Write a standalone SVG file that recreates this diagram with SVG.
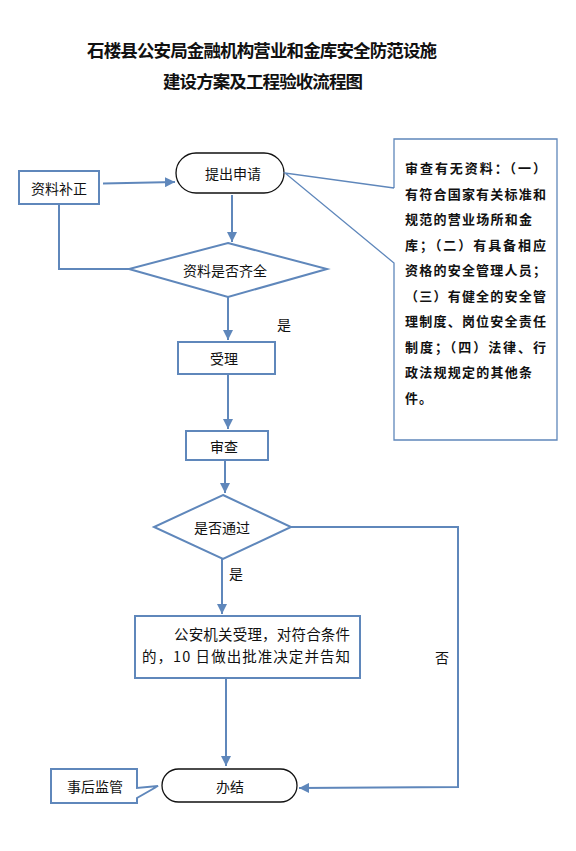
<svg xmlns="http://www.w3.org/2000/svg" width="576" height="851" viewBox="0 0 576 851">
<defs>
<style>
.t{font-family:"Noto Sans CJK SC","Liberation Serif",sans-serif;fill:#111;}
.lbl{font-size:14px;text-anchor:middle;dominant-baseline:central;}
.ttl{font-size:17.5px;font-weight:bold;text-anchor:middle;}
.call{font-size:13px;font-weight:bold;}
.bx{fill:#fff;stroke:#5f87bb;stroke-width:2;}
.st{fill:#fff;stroke:#111;stroke-width:1.3;}
.ln{fill:none;stroke:#5f87bb;stroke-width:2;}
.cl{fill:none;stroke:#5f87bb;stroke-width:1.3;}
</style>
<marker id="ah" viewBox="0 0 10 10" refX="10" refY="5" markerWidth="5" markerHeight="5" orient="auto" markerUnits="strokeWidth">
<path d="M0,0 L10,5 L0,10 z" fill="#5f87bb"/>
</marker>
</defs>
<rect width="576" height="851" fill="#fff"/>
<g id="title">
<text class="t ttl" x="262" y="57" textLength="350">石楼县公安局金融机构营业和金库安全防范设施</text>
<text class="t ttl" x="263" y="88" textLength="200">建设方案及工程验收流程图</text>
</g>
<g id="connectors">
<line class="ln" x1="103" y1="183.5" x2="175" y2="182" marker-end="url(#ah)"/>
<line class="ln" x1="232" y1="195" x2="232" y2="242" marker-end="url(#ah)"/>
<polyline class="ln" points="59,204 59,269 129,269"/>
<line class="ln" x1="228" y1="297" x2="228" y2="340" marker-end="url(#ah)"/>
<line class="ln" x1="228" y1="374" x2="228" y2="429" marker-end="url(#ah)"/>
<line class="ln" x1="225" y1="460" x2="225" y2="493" marker-end="url(#ah)"/>
<line class="ln" x1="222" y1="559" x2="222" y2="614" marker-end="url(#ah)"/>
<line class="ln" x1="226" y1="678" x2="226" y2="766" marker-end="url(#ah)"/>
<polyline class="ln" points="291,527 458,527 458,787 299,788" marker-end="url(#ah)"/>
</g>
<g id="n-apply">
<rect class="st" x="176" y="153" width="108" height="40" rx="20"/>
<text class="t lbl" x="233" y="173">提出申请</text>
</g>
<g id="n-fix">
<rect class="bx" x="19" y="171" width="80" height="33"/>
<text class="t lbl" x="59" y="187.5">资料补正</text>
</g>
<g id="n-complete">
<polygon class="bx" points="228,243 327,269 228,297 129,269"/>
<text class="t lbl" x="225" y="270">资料是否齐全</text>
</g>
<g id="n-note">
<path d="M394,188 L394,139 L557,139 L557,440 L394,440 L394,263 L285,173 Z" fill="#fff" stroke="none"/>
<polyline class="cl" points="394,188 394,139 557,139 557,440 394,440 394,263 285,173 394,188"/>
<text class="t call" x="405" y="173" textLength="141">审查有无资料：（一）</text>
<text class="t call" x="405" y="198.5" textLength="141">有符合国家有关标准和</text>
<text class="t call" x="405" y="224" textLength="127">规范的营业场所和金</text>
<text class="t call" x="405" y="249.5" textLength="141">库；（二）有具备相应</text>
<text class="t call" x="405" y="275" textLength="141">资格的安全管理人员；</text>
<text class="t call" x="405" y="300.5" textLength="141">（三）有健全的安全管</text>
<text class="t call" x="405" y="326" textLength="141">理制度、岗位安全责任</text>
<text class="t call" x="405" y="351.5" textLength="141">制度；（四）法律、行</text>
<text class="t call" x="405" y="377" textLength="127">政法规规定的其他条</text>
<text class="t call" x="405" y="402.5" textLength="27">件。</text>
</g>
<g id="l-yes1">
<text class="t lbl" x="284" y="324">是</text>
</g>
<g id="n-accept">
<rect class="bx" x="178" y="342" width="97" height="32"/>
<text class="t lbl" x="224" y="358">受理</text>
</g>
<g id="n-review">
<rect class="bx" x="186" y="431" width="82" height="29"/>
<text class="t lbl" x="224" y="446">审查</text>
</g>
<g id="n-pass">
<polygon class="bx" points="223,495 291,527 223,559 154,527"/>
<text class="t lbl" x="222" y="527">是否通过</text>
</g>
<g id="l-yes2">
<text class="t lbl" x="236" y="573">是</text>
</g>
<g id="l-no">
<text class="t lbl" x="442" y="657">否</text>
</g>
<g id="n-decide">
<rect class="bx" x="135" y="616" width="225" height="62"/>
<text class="t" x="174" y="640" font-size="14.5" textLength="176">公安机关受理，对符合条件</text>
<text class="t" x="142" y="662" font-size="14.5" textLength="208">的，10 日做出批准决定并告知</text>
</g>
<g id="n-done">
<rect class="st" x="162" y="769" width="135" height="33" rx="16.5"/>
<text class="t lbl" x="230" y="786">办结</text>
</g>
<g id="n-supervise">
<path d="M51,769 L137,769 L137,788 L158,786 L137,798 L137,803 L51,803 Z" fill="#fff" class="cl" style="stroke-width:2"/>
<text class="t lbl" x="95" y="786">事后监管</text>
</g>
</svg>
